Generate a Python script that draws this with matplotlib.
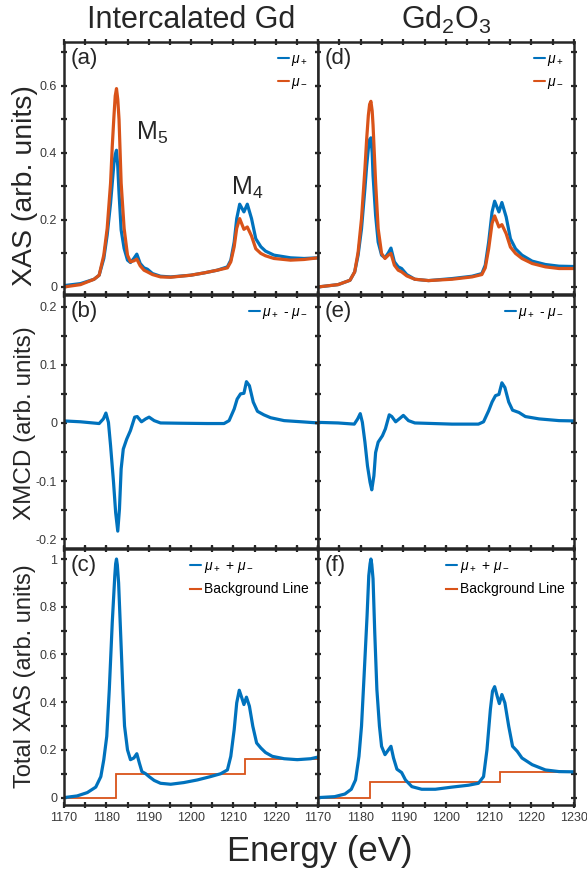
import numpy as np
import matplotlib
matplotlib.use("Agg")
import matplotlib.pyplot as plt

plt.rcParams['font.family'] = ['Liberation Sans', 'DejaVu Sans']
plt.rcParams['mathtext.fontset'] = 'custom'
plt.rcParams['mathtext.rm'] = 'Liberation Sans'
plt.rcParams['mathtext.it'] = 'Liberation Sans:italic'

BLUE = '#0072BD'
ORANGE = '#D95319'
DARK = '#262626'

# ---- Intercalated Gd: circular polarised XAS ----
E_a = [1170.0, 1173.9, 1177.1, 1178.3, 1179.4, 1180.2, 1181.0, 1181.4, 1181.8, 1182.1,
       1182.4, 1182.7, 1183.0, 1183.5, 1184.2, 1185.0, 1185.7, 1186.5, 1187.2, 1188.0,
       1188.9, 1189.7, 1190.9, 1192.8, 1195.2, 1199.9, 1203.1, 1206.2, 1208.6, 1209.4,
       1210.2, 1210.8, 1211.5, 1212.5, 1213.3, 1214.3, 1215.3, 1216.5, 1217.6, 1219.6,
       1223.5, 1226.7, 1230.0]
mup_a = [0.004, 0.010, 0.023, 0.035, 0.085, 0.155, 0.250, 0.310, 0.370, 0.395,
         0.408, 0.360, 0.280, 0.170, 0.115, 0.080, 0.073, 0.085, 0.098, 0.070,
         0.057, 0.053, 0.040, 0.032, 0.030, 0.035, 0.042, 0.050, 0.060, 0.080,
         0.134, 0.204, 0.247, 0.224, 0.247, 0.204, 0.144, 0.120, 0.107, 0.095,
         0.087, 0.085, 0.087]
mum_a = [0.000, 0.007, 0.023, 0.035, 0.095, 0.175, 0.310, 0.420, 0.510, 0.570,
         0.592, 0.560, 0.500, 0.310, 0.175, 0.095, 0.075, 0.078, 0.083, 0.063,
         0.050, 0.045, 0.037, 0.030, 0.029, 0.035, 0.042, 0.050, 0.057, 0.075,
         0.120, 0.175, 0.204, 0.172, 0.179, 0.152, 0.114, 0.100, 0.093, 0.085,
         0.080, 0.082, 0.087]

# ---- Gd2O3: circular polarised XAS ----
E_d = [1170.0, 1174.7, 1177.5, 1178.6, 1179.4, 1180.2, 1181.0, 1181.4, 1181.8, 1182.1,
       1182.4, 1182.7, 1182.9, 1183.5, 1184.1, 1184.9, 1185.7, 1186.5, 1187.1, 1187.9,
       1188.8, 1189.6, 1190.8, 1192.7, 1195.9, 1201.4, 1206.1, 1208.4, 1209.2, 1210.0,
       1210.8, 1211.4, 1212.4, 1213.1, 1214.1, 1215.1, 1216.3, 1217.8, 1220.2, 1223.3,
       1226.5, 1230.0]
mup_d = [0.000, 0.007, 0.020, 0.045, 0.095, 0.174, 0.294, 0.360, 0.413, 0.440,
         0.445, 0.400, 0.333, 0.214, 0.134, 0.095, 0.087, 0.102, 0.116, 0.075,
         0.060, 0.055, 0.037, 0.023, 0.019, 0.025, 0.032, 0.040, 0.065, 0.134,
         0.224, 0.256, 0.224, 0.252, 0.209, 0.144, 0.114, 0.095, 0.077, 0.067,
         0.062, 0.061]
mum_d = [0.000, 0.007, 0.020, 0.045, 0.104, 0.204, 0.353, 0.440, 0.512, 0.545,
         0.554, 0.525, 0.483, 0.313, 0.174, 0.100, 0.085, 0.095, 0.100, 0.065,
         0.050, 0.045, 0.033, 0.023, 0.019, 0.023, 0.030, 0.037, 0.057, 0.114,
         0.190, 0.212, 0.179, 0.186, 0.159, 0.119, 0.100, 0.085, 0.070, 0.060,
         0.055, 0.055]

# ---- XMCD ----
E_b = [1170.0, 1173.9, 1178.3, 1179.3, 1179.9, 1180.5, 1181.0, 1181.7, 1182.2, 1182.7,
       1183.1, 1183.5, 1184.0, 1184.8, 1185.7, 1186.7, 1187.3, 1188.3, 1189.3, 1190.1,
       1191.3, 1192.8, 1197.6, 1203.9, 1207.8, 1209.0, 1210.2, 1210.9, 1211.7, 1212.5,
       1213.1, 1213.8, 1214.7, 1215.7, 1217.2, 1218.8, 1222.0, 1226.7, 1230.0]
xmcd_b = [0.0035, 0.002, -0.001, 0.007, 0.017, 0.001, -0.039, -0.102, -0.154, -0.186,
          -0.148, -0.079, -0.045, -0.028, -0.013, 0.010, 0.011, 0.002, 0.007, 0.010,
          0.004, 0.000, -0.0005, -0.001, -0.001, 0.004, 0.024, 0.041, 0.050, 0.051,
          0.071, 0.064, 0.036, 0.020, 0.014, 0.009, 0.004, 0.0017, 0.000]

E_e = [1170.0, 1174.7, 1178.5, 1179.3, 1179.9, 1180.4, 1181.0, 1181.6, 1182.2, 1182.6,
       1183.1, 1183.5, 1184.1, 1185.1, 1185.8, 1186.7, 1187.3, 1188.2, 1189.2, 1190.0,
       1191.2, 1192.7, 1201.4, 1207.6, 1208.8, 1210.0, 1210.8, 1211.6, 1212.4, 1213.1,
       1213.8, 1214.7, 1215.6, 1217.1, 1218.6, 1221.8, 1226.5, 1230.0]
xmcd_e = [0.001, 0.000, -0.002, 0.007, 0.016, 0.001, -0.033, -0.074, -0.102, -0.115,
          -0.091, -0.051, -0.033, -0.022, -0.010, 0.014, 0.011, 0.002, 0.008, 0.013,
          0.004, 0.000, -0.002, -0.002, 0.002, 0.021, 0.036, 0.047, 0.049, 0.069,
          0.061, 0.036, 0.022, 0.018, 0.011, 0.007, 0.004, 0.0035]

# ---- total XAS (mu+ + mu-) ----
E_c = [1170.0, 1173.1, 1175.5, 1177.5, 1178.7, 1179.4, 1180.1, 1180.7, 1181.4, 1182.0,
       1182.2, 1182.4, 1182.6, 1182.9, 1183.4, 1183.9, 1184.3, 1185.0, 1185.7, 1186.5,
       1187.2, 1187.8, 1188.4, 1189.3, 1190.1, 1191.3, 1192.8, 1195.2, 1198.3, 1201.5,
       1204.6, 1207.0, 1208.6, 1209.4, 1210.2, 1210.8, 1211.4, 1212.0, 1212.5, 1213.1,
       1213.8, 1214.6, 1215.5, 1216.5, 1217.6, 1219.2, 1222.0, 1225.1, 1228.3, 1230.0]
tot_c = [0.000, 0.007, 0.021, 0.044, 0.088, 0.159, 0.257, 0.453, 0.734, 0.930,
         0.980, 1.000, 0.975, 0.900, 0.678, 0.453, 0.300, 0.200, 0.159, 0.166,
         0.184, 0.145, 0.109, 0.100, 0.088, 0.072, 0.060, 0.056, 0.063, 0.074,
         0.088, 0.100, 0.116, 0.173, 0.285, 0.397, 0.450, 0.418, 0.390, 0.421,
         0.383, 0.299, 0.229, 0.208, 0.189, 0.173, 0.163, 0.159, 0.163, 0.170]

E_f = [1170.0, 1173.9, 1176.3, 1177.8, 1178.8, 1179.6, 1180.2, 1180.8, 1181.5, 1181.9,
       1182.2, 1182.4, 1182.6, 1182.9, 1183.3, 1183.8, 1184.4, 1184.9, 1185.7, 1186.5,
       1187.1, 1187.7, 1188.5, 1189.6, 1190.5, 1192.0, 1194.3, 1197.5, 1201.4, 1205.3,
       1207.6, 1208.8, 1209.6, 1210.4, 1210.9, 1211.4, 1212.0, 1212.5, 1213.1, 1213.8,
       1214.7, 1215.6, 1216.7, 1217.8, 1220.2, 1223.3, 1226.5, 1230.0]
tot_f = [0.000, 0.004, 0.015, 0.035, 0.074, 0.173, 0.300, 0.510, 0.762, 0.930,
         0.980, 1.000, 0.978, 0.917, 0.692, 0.453, 0.300, 0.215, 0.180, 0.200,
         0.215, 0.166, 0.119, 0.105, 0.074, 0.046, 0.035, 0.035, 0.044, 0.052,
         0.060, 0.088, 0.200, 0.369, 0.446, 0.465, 0.425, 0.394, 0.432, 0.397,
         0.299, 0.215, 0.194, 0.166, 0.138, 0.116, 0.109, 0.108]

# two-step background line
bg_edges_c = [1170.0, 1182.2, 1212.8, 1230.0]
bg_c = [0.0, 0.097, 0.161]
bg_edges_f = [1170.0, 1182.2, 1212.6, 1230.0]
bg_f = [0.0, 0.064, 0.107]

fig = plt.figure(figsize=(5.87, 8.72), dpi=100)

W = 587.0
H = 872.0
cols = [(64, 318), (318, 574)]
rows = [(42, 294), (295, 548), (549, 805)]

axes = {}
for r, (top, bot) in enumerate(rows):
    for c, (l, rgt) in enumerate(cols):
        ax = fig.add_axes([l / W, 1 - bot / H, (rgt - l) / W, (bot - top) / H])
        axes[(r, c)] = ax

def style(ax, yticks, ylabels, ylim, show_y, show_x, xlabels):
    ax.set_xlim(1170, 1230)
    ax.set_ylim(*ylim)
    ax.set_xticks(np.arange(1170, 1231, 5))
    ax.set_yticks(yticks)
    if show_x:
        ax.set_xticklabels(xlabels)
    else:
        ax.set_xticklabels([])
    if show_y:
        ax.set_yticklabels(ylabels)
    else:
        ax.set_yticklabels([])
    ax.tick_params(which='both', direction='inout', top=True, right=True,
                   length=5, width=1.6, color=DARK, labelsize=9,
                   labelcolor='#3a3a3a', pad=2.5)
    for s in ax.spines.values():
        s.set_linewidth(1.8)
        s.set_color(DARK)

xl_left = ['1170', '', '1180', '', '1190', '', '1200', '', '1210', '', '1220', '', '']
xl_right = ['1170', '', '1180', '', '1190', '', '1200', '', '1210', '', '1220', '', '1230']

yt_top = np.round(np.arange(0, 0.71, 0.1), 2)
yl_top = ['0', '', '0.2', '', '0.4', '', '0.6', '']
yt_mid = np.round(np.arange(-0.2, 0.201, 0.05), 3)
yl_mid = ['-0.2', '', '-0.1', '', '0', '', '0.1', '', '0.2']
yt_bot = np.round(np.arange(0, 1.01, 0.1), 2)
yl_bot = ['0', '', '0.2', '', '0.4', '', '0.6', '', '0.8', '', '1']

leg_kw = dict(loc='upper right', frameon=False, fontsize=10, handlelength=0.75,
              handletextpad=0.2, borderaxespad=0.3, labelspacing=0.55)
line_kw = dict(lw=2.3, solid_joinstyle='round', solid_capstyle='round')

# XAS panels
for c, (E, mp, mm, tag) in enumerate([(E_a, mup_a, mum_a, '(a)'), (E_d, mup_d, mum_d, '(d)')]):
    ax = axes[(0, c)]
    ax.plot(E, mp, color=BLUE, label=r'$\mu_+$', **line_kw)
    ax.plot(E, mm, color=ORANGE, label=r'$\mu_-$', **line_kw)
    style(ax, yt_top, yl_top, (-0.021, 0.731), c == 0, False, None)
    leg = ax.legend(**leg_kw)
    for h in leg.get_lines():
        h.set_linewidth(1.5)
    ax.text(0.025, 0.975, tag, transform=ax.transAxes, fontsize=16,
            va='top', ha='left', color=DARK)

axes[(0, 0)].text(1187.0, 0.44, r'M$_5$', fontsize=18, color=DARK)
axes[(0, 0)].text(1209.4, 0.275, r'M$_4$', fontsize=18, color=DARK)

# XMCD panels
for c, (E, d, tag) in enumerate([(E_b, xmcd_b, '(b)'), (E_e, xmcd_e, '(e)')]):
    ax = axes[(1, c)]
    ax.plot(E, d, color=BLUE, label=r'$\mu_+$ - $\mu_-$', **line_kw)
    style(ax, yt_mid, yl_mid, (-0.215, 0.22), c == 0, False, None)
    leg = ax.legend(**leg_kw)
    for h in leg.get_lines():
        h.set_linewidth(1.5)
    ax.text(0.025, 0.975, tag, transform=ax.transAxes, fontsize=16,
            va='top', ha='left', color=DARK)

# total XAS panels with background
for c, (E, t, be, bv, tag, xl) in enumerate([
        (E_c, tot_c, bg_edges_c, bg_c, '(c)', xl_left),
        (E_f, tot_f, bg_edges_f, bg_f, '(f)', xl_right)]):
    ax = axes[(2, c)]
    ax.plot(E, t, color=BLUE, label=r'$\mu_+$ + $\mu_-$', **line_kw)
    ax.stairs(bv, be, baseline=None, color=ORANGE, lw=1.3, label='Background Line')
    style(ax, yt_bot, yl_bot, (-0.031, 1.042), c == 0, True, xl)
    leg = ax.legend(**leg_kw)
    for h in leg.get_lines():
        h.set_linewidth(1.5)
    ax.text(0.025, 0.975, tag, transform=ax.transAxes, fontsize=16,
            va='top', ha='left', color=DARK)

# y labels (pixel centre of each label, font size)
ylab_x = 25 / W
for (yc, txt, fs) in [(186, 'XAS (arb. units)', 20.5), (423, 'XMCD (arb. units)', 17.5),
                      (676, 'Total XAS (arb. units)', 17)]:
    fig.text(ylab_x, 1 - yc / H, txt, rotation=90, fontsize=fs,
             ha='center', va='center', color=DARK)

# column titles and common x label
fig.text(191 / W, 1 - 20 / H, 'Intercalated Gd', fontsize=22, ha='center', va='center', color=DARK)
fig.text(446 / W, 1 - 20 / H, r'Gd$_2$O$_3$', fontsize=22, ha='center', va='center', color=DARK)
fig.text(320 / W, 1 - 851 / H, 'Energy (eV)', fontsize=25, ha='center', va='center', color=DARK)

fig.savefig('out.png', dpi=100)
